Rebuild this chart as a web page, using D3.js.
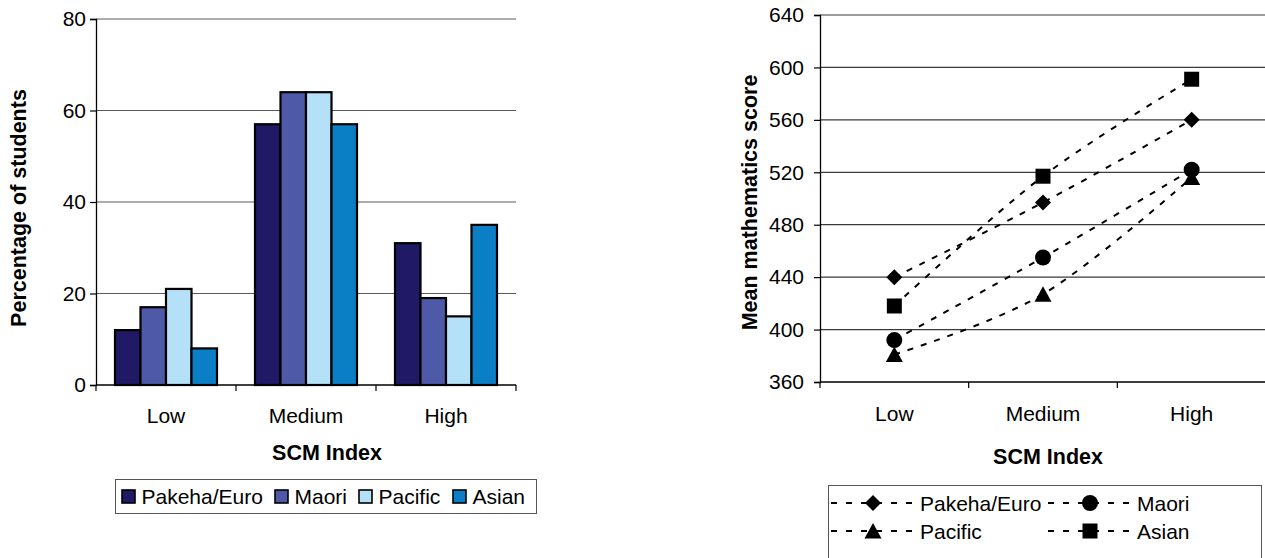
<!DOCTYPE html>
<html>
<head>
<meta charset="utf-8">
<script src="https://cdn.jsdelivr.net/npm/d3@7"></script>
<style>
  html, body { margin: 0; padding: 0; background: #fff; }
  svg { display: block; }
  text { font-family: "Liberation Sans", Arial, sans-serif; fill: #000; }
</style>
</head>
<body>
<svg id="chart" width="1265" height="558"></svg>
<script>
// Categories of the SCM index and the four ethnic groups
const categories = ["Low", "Medium", "High"];
const groups = ["Pakeha/Euro", "Maori", "Pacific", "Asian"];

// Percentage of students in each SCM category
const pctPakeha = [12, 57, 31];
const pctMaori = [17, 64, 19];
const pctPacific = [21, 64, 15];
const pctAsian = [8, 57, 35];

// Mean mathematics score by SCM category
const scorePakeha = [440, 497, 560];
const scoreMaori = [392, 455, 522];
const scorePacific = [381, 427, 516];
const scoreAsian = [418, 517, 591];

// Axis tick values
const pctTicks = [0, 20, 40, 60, 80];
const scoreTicks = [360, 400, 440, 480, 520, 560, 600, 640];

const barColors = ["#201a66", "#4e5aa7", "#b4e1f7", "#0a7fc6"];
const pctSeries = [pctPakeha, pctMaori, pctPacific, pctAsian];
const scoreSeries = [scorePakeha, scoreMaori, scorePacific, scoreAsian];
const markerKinds = ["diamond", "circle", "triangle", "square"];

const svg = d3.select("#chart");
const FS = 21;
const FT = 21.5;

// ---------- Bar chart: percentage of students ----------
const L = { x0: 96, x1: 516, y0: 19, y1: 385 };
const xL = d3.scaleBand().domain(categories).range([L.x0, L.x1]).padding(0);
const xLInner = d3.scaleBand().domain(groups).range([0, xL.bandwidth()])
  .paddingInner(0).paddingOuter(0.745);
const yL = d3.scaleLinear().domain([0, 80]).range([L.y1, L.y0]);

const gL = svg.append("g");
// gridlines
gL.selectAll("line.grid").data(pctTicks.filter(d => d > 0)).join("line")
  .attr("x1", L.x0).attr("x2", L.x1)
  .attr("y1", d => yL(d)).attr("y2", d => yL(d))
  .attr("stroke", "#5a5a5a").attr("stroke-width", 1.2);

// bars
groups.forEach((g, gi) => {
  gL.append("g").selectAll("rect").data(categories).join("rect")
    .attr("x", (c) => xL(c) + xLInner(g))
    .attr("width", xLInner.bandwidth())
    .attr("y", (c, i) => yL(pctSeries[gi][i]))
    .attr("height", (c, i) => yL(0) - yL(pctSeries[gi][i]))
    .attr("fill", barColors[gi])
    .attr("stroke", "#000").attr("stroke-width", 2.2);
});

// y axis
const yAxisL = gL.append("g").attr("transform", `translate(${L.x0},0)`)
  .call(d3.axisLeft(yL).tickValues(pctTicks).tickSize(6).tickPadding(4));
yAxisL.select(".domain").attr("stroke", "#000").attr("stroke-width", 1.3);
yAxisL.selectAll(".tick line").attr("stroke", "#000").attr("stroke-width", 1.2);
yAxisL.selectAll("text").attr("font-size", FS).attr("font-family", "Liberation Sans, Arial, sans-serif").attr("fill", "#000");

// x axis
const xAxisL = gL.append("g").attr("transform", `translate(0,${L.y1})`);
xAxisL.append("line").attr("x1", L.x0).attr("x2", L.x1).attr("y1", 0).attr("y2", 0)
  .attr("stroke", "#000").attr("stroke-width", 1.3);
xAxisL.selectAll("line.tk").data([...categories.map(c => xL(c)), L.x1]).join("line")
  .attr("x1", d => d).attr("x2", d => d).attr("y1", 0).attr("y2", 6)
  .attr("stroke", "#000").attr("stroke-width", 1.2);
xAxisL.selectAll("text").data(categories).join("text")
  .attr("x", c => xL(c) + xL.bandwidth() / 2).attr("y", 38)
  .attr("text-anchor", "middle").attr("font-size", FS).text(c => c);

// axis titles
gL.append("text").attr("x", 327).attr("y", 460).attr("text-anchor", "middle")
  .attr("font-size", FT).attr("font-weight", "bold").text("SCM Index");
gL.append("text").attr("transform", `translate(26,${(L.y0 + L.y1) / 2 + 6}) rotate(-90)`)
  .attr("text-anchor", "middle").attr("font-size", FT).attr("font-weight", "bold")
  .text("Percentage of students");

// legend
const lgL = svg.append("g");
lgL.append("rect").attr("x", 115.5).attr("y", 479.5).attr("width", 421).attr("height", 34)
  .attr("fill", "#fff").attr("stroke", "#555").attr("stroke-width", 1);
const legLX = [122, 275, 359, 453];
groups.forEach((g, gi) => {
  lgL.append("rect").attr("x", legLX[gi]).attr("y", 490).attr("width", 13).attr("height", 13)
    .attr("fill", barColors[gi]).attr("stroke", "#000").attr("stroke-width", 1.6);
  lgL.append("text").attr("x", legLX[gi] + 19.5).attr("y", 504).attr("font-size", FS).text(g);
});

// ---------- Line chart: mean mathematics score ----------
const R = { x0: 820, x1: 1266, y0: 15, y1: 382 };
const xR = d3.scaleBand().domain(categories).range([R.x0, R.x1]).padding(0);
const yR = d3.scaleLinear().domain([360, 640]).range([R.y1, R.y0]);
const gR = svg.append("g");

gR.selectAll("line.grid").data(scoreTicks.filter(d => d > 360)).join("line")
  .attr("x1", R.x0).attr("x2", R.x1)
  .attr("y1", d => yR(d)).attr("y2", d => yR(d))
  .attr("stroke", "#3a3a3a").attr("stroke-width", 1.2);

const yAxisR = gR.append("g").attr("transform", `translate(${R.x0},0)`)
  .call(d3.axisLeft(yR).tickValues(scoreTicks).tickSize(6).tickPadding(10));
yAxisR.select(".domain").attr("stroke", "#000").attr("stroke-width", 1.3);
yAxisR.selectAll(".tick line").attr("stroke", "#000").attr("stroke-width", 1.2);
yAxisR.selectAll("text").attr("font-size", FS).attr("font-family", "Liberation Sans, Arial, sans-serif").attr("fill", "#000");

const xAxisR = gR.append("g").attr("transform", `translate(0,${R.y1})`);
xAxisR.append("line").attr("x1", R.x0).attr("x2", R.x1).attr("y1", 0).attr("y2", 0)
  .attr("stroke", "#000").attr("stroke-width", 1.3);
xAxisR.selectAll("line.tk").data(categories.map(c => xR(c))).join("line")
  .attr("x1", d => d).attr("x2", d => d).attr("y1", 0).attr("y2", 6)
  .attr("stroke", "#000").attr("stroke-width", 1.2);
xAxisR.selectAll("text").data(categories).join("text")
  .attr("x", c => xR(c) + xR.bandwidth() / 2).attr("y", 39)
  .attr("text-anchor", "middle").attr("font-size", FS).text(c => c);

gR.append("text").attr("x", 1048).attr("y", 464).attr("text-anchor", "middle")
  .attr("font-size", FT).attr("font-weight", "bold").text("SCM Index");
gR.append("text").attr("transform", `translate(757,${(R.y0 + R.y1) / 2 + 4}) rotate(-90)`)
  .attr("text-anchor", "middle").attr("font-size", FT).attr("font-weight", "bold")
  .text("Mean mathematics score");

// marker shapes
function markerPath(kind) {
  switch (kind) {
    case "diamond": return "M0,-8L8,0L0,8L-8,0Z";
    case "square": return "M-7.5,-7.5H7.5V7.5H-7.5Z";
    case "triangle": return "M0,-8L8.5,7.5H-8.5Z";
    default: return d3.symbol(d3.symbolCircle, Math.PI * 8 * 8)();
  }
}

const line = d3.line()
  .x((d, i) => xR(categories[i]) + xR.bandwidth() / 2)
  .y(d => yR(d))
  .curve(d3.curveCardinal.tension(0));

scoreSeries.forEach((s, si) => {
  gR.append("path").attr("d", line(s)).attr("fill", "none")
    .attr("stroke", "#000").attr("stroke-width", 2).attr("stroke-dasharray", "6,8");
});
scoreSeries.forEach((s, si) => {
  gR.append("g").selectAll("path").data(s).join("path")
    .attr("transform", (d, i) => `translate(${xR(categories[i]) + xR.bandwidth() / 2},${yR(d)})`)
    .attr("d", markerPath(markerKinds[si])).attr("fill", "#000");
});

// line legend
const lgR = svg.append("g");
lgR.append("rect").attr("x", 828.5).attr("y", 485.5).attr("width", 433).attr("height", 90)
  .attr("fill", "#fff").attr("stroke", "#555").attr("stroke-width", 1);
const legPos = [[920, 503], [1137, 503], [920, 531], [1137, 531]];
groups.forEach((g, gi) => {
  const [tx, ty] = legPos[gi];
  lgR.append("line").attr("x1", tx - 89).attr("x2", tx - 3).attr("y1", ty).attr("y2", ty)
    .attr("stroke", "#000").attr("stroke-width", 2).attr("stroke-dasharray", "6,9");
  lgR.append("path").attr("transform", `translate(${tx - 47},${ty})`)
    .attr("d", markerPath(markerKinds[gi])).attr("fill", "#000");
  lgR.append("text").attr("x", tx).attr("y", ty + 7.5).attr("font-size", FS).text(g);
});
</script>
</body>
</html>
